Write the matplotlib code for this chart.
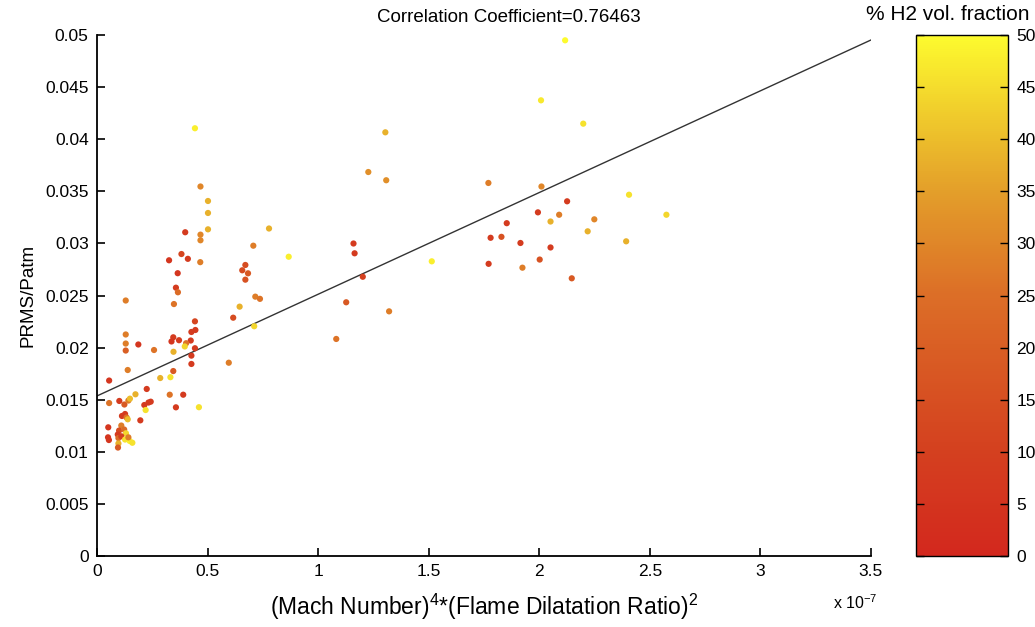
import numpy as np
import matplotlib
matplotlib.use("Agg")
import matplotlib.pyplot as plt
from matplotlib.colors import LinearSegmentedColormap

plt.rcParams['font.family'] = ['Liberation Sans', 'DejaVu Sans']
plt.rcParams['mathtext.fontset'] = 'custom'
plt.rcParams['mathtext.rm'] = 'Liberation Sans'

# (Mach number)^4 * (flame dilatation ratio)^2, in units of 1e-7
mach_dilatation = [
    0.443, 2.117, 2.008, 2.199, 1.304, 1.227, 1.308, 1.770, 2.010, 0.468,
    0.502, 0.502, 0.502, 0.399, 0.468, 0.468, 0.778, 0.707, 0.867, 0.671,
    0.657, 0.683, 0.671, 0.716, 0.737, 0.645, 0.616, 0.711, 0.596, 0.382,
    0.411, 0.326, 0.467, 0.365, 0.357, 0.366, 0.348, 0.443, 0.445, 0.427,
    0.345, 0.337, 0.371, 0.424, 0.403, 0.397, 0.443, 0.258, 0.346, 0.427,
    0.427, 0.345, 0.286, 0.332, 0.329, 0.390, 0.357, 0.461, 0.243, 0.130,
    0.130, 0.130, 0.187, 0.130, 0.139, 0.055, 0.174, 0.225, 0.055, 0.101,
    0.124, 0.142, 0.149, 0.214, 0.233, 0.220, 0.127, 0.113, 0.134, 0.139,
    0.196, 0.051, 0.110, 0.100, 0.123, 0.131, 0.094, 0.050, 0.054, 0.097,
    0.110, 0.127, 0.148, 0.160, 0.097, 0.095, 0.142, 1.127, 1.321, 1.082,
    1.160, 1.165, 1.202, 1.514, 1.994, 1.853, 1.780, 1.829, 1.915, 2.051,
    2.051, 1.771, 1.924, 2.002, 2.406, 2.575, 2.126, 2.090, 2.249, 2.219,
    2.393, 2.147,
]

# PRMS / Patm
prms_ratio = [
    0.04105, 0.04949, 0.04373, 0.04149, 0.04066, 0.03685, 0.03606, 0.03580, 0.03546, 0.03546,
    0.03407, 0.03292, 0.03135, 0.03107, 0.03084, 0.03030, 0.03143, 0.02978, 0.02872, 0.02793,
    0.02742, 0.02713, 0.02652, 0.02489, 0.02468, 0.02393, 0.02287, 0.02205, 0.01855, 0.02898,
    0.02852, 0.02838, 0.02820, 0.02714, 0.02575, 0.02531, 0.02418, 0.02252, 0.02169, 0.02150,
    0.02099, 0.02059, 0.02071, 0.02068, 0.02042, 0.02011, 0.01994, 0.01977, 0.01960, 0.01923,
    0.01843, 0.01775, 0.01708, 0.01716, 0.01548, 0.01548, 0.01427, 0.01428, 0.01481, 0.02452,
    0.02126, 0.02039, 0.02030, 0.01972, 0.01785, 0.01684, 0.01552, 0.01603, 0.01468, 0.01488,
    0.01454, 0.01492, 0.01510, 0.01449, 0.01473, 0.01401, 0.01363, 0.01344, 0.01329, 0.01312,
    0.01302, 0.01235, 0.01252, 0.01204, 0.01214, 0.01178, 0.01166, 0.01139, 0.01113, 0.01132,
    0.01149, 0.01118, 0.01104, 0.01087, 0.01080, 0.01041, 0.01139, 0.02435, 0.02348, 0.02083,
    0.02999, 0.02905, 0.02680, 0.02828, 0.03298, 0.03194, 0.03054, 0.03063, 0.03004, 0.03210,
    0.02961, 0.02804, 0.02767, 0.02845, 0.03467, 0.03275, 0.03404, 0.03275, 0.03231, 0.03116,
    0.03020, 0.02665,
]

# % H2 volume fraction of each case
h2_fraction = [
    48, 50, 47, 46, 38, 32, 32, 28, 30, 30,
    38, 38, 38, 8, 30, 30, 38, 28, 48, 14,
    14, 18, 16, 28, 26, 38, 14, 44, 28, 12,
    8, 6, 28, 6, 8, 24, 26, 12, 8, 8,
    8, 6, 8, 8, 26, 44, 8, 26, 38, 8,
    8, 18, 38, 46, 26, 8, 8, 46, 8, 28,
    28, 28, 6, 20, 28, 6, 38, 8, 26, 8,
    18, 28, 40, 8, 8, 46, 8, 8, 26, 40,
    8, 6, 28, 14, 24, 44, 8, 6, 6, 24,
    10, 46, 48, 46, 38, 18, 28, 18, 28, 26,
    8, 8, 10, 48, 8, 8, 8, 16, 8, 38,
    8, 8, 28, 16, 46, 44, 8, 28, 30, 38,
    38, 18,
]

# Least-squares fit of PRMS/Patm against the x quantity (x in 1e-7 units)
fit_intercept = 0.01536
fit_slope = 0.00976
fit_x_range = [0.0, 3.5]

x_ticks = [0, 0.5, 1, 1.5, 2, 2.5, 3, 3.5]
x_tick_labels = ['0', '0.5', '1', '1.5', '2', '2.5', '3', '3.5']
y_ticks = [0, 0.005, 0.01, 0.015, 0.02, 0.025, 0.03, 0.035, 0.04, 0.045, 0.05]
y_tick_labels = ['0', '0.005', '0.01', '0.015', '0.02', '0.025', '0.03',
                 '0.035', '0.04', '0.045', '0.05']
cbar_ticks = [0, 5, 10, 15, 20, 25, 30, 35, 40, 45, 50]

h2_cmap = LinearSegmentedColormap.from_list(
    'h2', [(0.0, '#d3281e'), (0.2, '#d4401f'), (0.5, '#dc6e27'),
           (0.7, '#e39e2a'), (0.85, '#f0cc2c'), (1.0, '#fdfb2e')])

fig = plt.figure(figsize=(10.35, 6.27), dpi=100)
ax = fig.add_axes([0.0937, 0.1132, 0.7478, 0.8310])
cax = fig.add_axes([0.885, 0.1132, 0.0889, 0.8310])

sc = ax.scatter(mach_dilatation, prms_ratio, c=h2_fraction, cmap=h2_cmap,
                vmin=0, vmax=50, s=20, linewidths=0, zorder=3)

fx = np.array(fit_x_range)
ax.plot(fx, fit_intercept + fit_slope * fx, color='#333333', lw=1.0, zorder=2)

ax.set_xlim(0, 3.5)
ax.set_ylim(0, 0.05)
ax.set_xticks(x_ticks)
ax.set_xticklabels(x_tick_labels)
ax.set_yticks(y_ticks)
ax.set_yticklabels(y_tick_labels)
for side in ('top', 'right'):
    ax.spines[side].set_visible(False)
for side in ('left', 'bottom'):
    ax.spines[side].set_linewidth(1.3)
ax.tick_params(direction='in', length=6, width=1.2, labelsize=12.5, pad=6)

ax.set_title('Correlation Coefficient=0.76463', fontsize=13.5, pad=9, x=0.532)
ax.set_xlabel(r'(Mach Number)$^{4}$*(Flame Dilatation Ratio)$^{2}$',
              fontsize=16.5, labelpad=9)
ax.set_ylabel('PRMS/Patm', fontsize=13.5, labelpad=6)
ax.text(0.951, -0.090, r'x 10$^{-7}$', transform=ax.transAxes,
        fontsize=11.5, ha='left', va='center')

cb = fig.colorbar(sc, cax=cax, ticks=cbar_ticks)
cb.outline.set_linewidth(1.0)
cax.tick_params(direction='in', length=6, width=1.0, labelsize=12.5,
                left=True, right=True, pad=6)
fig.text(948 / 1035, 1 - 15 / 627, '% H2 vol. fraction', fontsize=15,
         ha='center', va='center')

fig.savefig('out.png', dpi=100)
